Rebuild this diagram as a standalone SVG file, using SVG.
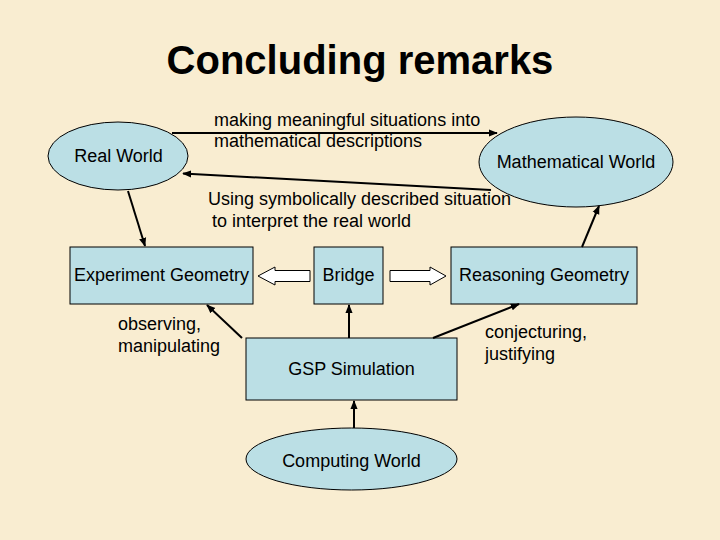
<svg xmlns="http://www.w3.org/2000/svg" width="720" height="540" viewBox="0 0 720 540">
<style>
text{font-family:"Liberation Sans",Arial,sans-serif;font-size:18px;fill:#000}
.title{font-size:40px;font-weight:bold}
.node{fill:#BBDFE5;stroke:#000;stroke-width:1}
.conn{stroke:#000;stroke-width:2;fill:none;marker-end:url(#ah)}
.hollow{fill:#fff;stroke:#000;stroke-width:1}
</style>
<defs>
<marker id="ah" viewBox="0 0 10 10" refX="9" refY="5" markerWidth="4.5" markerHeight="4.5" orient="auto" markerUnits="strokeWidth">
<path d="M0,1 L10,5 L0,9 z" fill="#000"/>
</marker>
</defs>
<rect x="0" y="0" width="720" height="540" fill="#F9EDD1"/>
<text class="title" x="360" y="74" text-anchor="middle">Concluding remarks</text>

<g id="real-world"><ellipse class="node" cx="118" cy="156" rx="70" ry="34"/><text x="118.5" y="162" text-anchor="middle">Real World</text></g>
<g id="math-world"><ellipse class="node" cx="576" cy="162" rx="97" ry="45"/><text x="576" y="168" text-anchor="middle">Mathematical World</text></g>
<g id="experiment"><rect class="node" x="70" y="247" width="183" height="57"/><text x="161.5" y="281" text-anchor="middle">Experiment Geometry</text></g>
<g id="bridge"><rect class="node" x="314" y="247" width="69" height="57"/><text x="348.5" y="281" text-anchor="middle">Bridge</text></g>
<g id="reasoning"><rect class="node" x="451" y="247" width="186" height="57"/><text x="544" y="281" text-anchor="middle">Reasoning Geometry</text></g>
<g id="gsp"><rect class="node" x="246" y="338" width="211" height="62"/><text x="351.5" y="375" text-anchor="middle">GSP Simulation</text></g>
<g id="computing"><ellipse class="node" cx="351.5" cy="459" rx="105.5" ry="31"/><text x="351.5" y="467" text-anchor="middle">Computing World</text></g>

<g id="connectors">
<line class="conn" x1="172" y1="133" x2="497" y2="133"/>
<line class="conn" x1="491" y1="190" x2="183" y2="173.5"/>
<line class="conn" x1="128" y1="191" x2="145" y2="246"/>
<line class="conn" x1="242" y1="338" x2="207" y2="305"/>
<line class="conn" x1="349" y1="338" x2="349" y2="305"/>
<line class="conn" x1="433" y1="338" x2="519" y2="304"/>
<line class="conn" x1="354" y1="428" x2="354" y2="401"/>
<line class="conn" x1="582" y1="247" x2="599" y2="206"/>
<path class="hollow" d="M310,270.5 L275,270.5 L275,267 L258,276 L275,285 L275,281.5 L310,281.5 z"/>
<path class="hollow" d="M390,270.5 L430,270.5 L430,267 L446,276 L430,285 L430,281.5 L390,281.5 z"/>
</g>

<text x="214" y="126">making meaningful situations into</text>
<text x="214" y="147">mathematical descriptions</text>
<text x="208" y="205">Using symbolically described situation</text>
<text x="212" y="227">to interpret the real world</text>
<text x="118" y="330">observing,</text>
<text x="118" y="352">manipulating</text>
<text x="485" y="338">conjecturing,</text>
<text x="485" y="360">justifying</text>
</svg>
